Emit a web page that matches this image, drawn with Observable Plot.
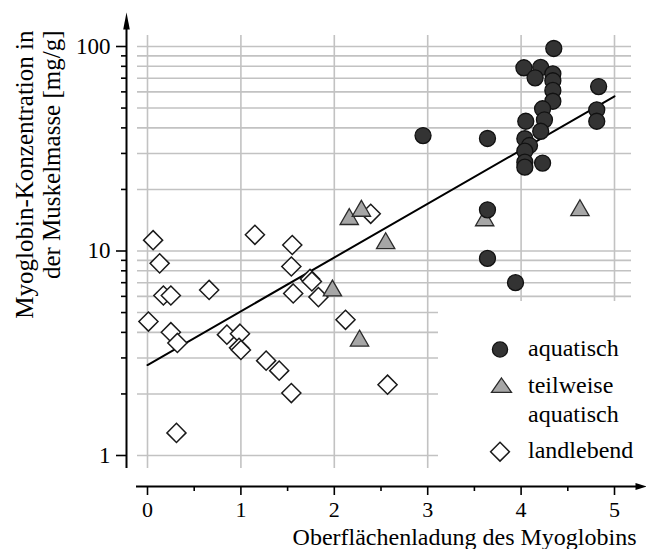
<!DOCTYPE html>
<html>
<head>
<meta charset="utf-8">
<script src="https://cdn.jsdelivr.net/npm/d3@7"></script>
<script src="https://cdn.jsdelivr.net/npm/@observablehq/plot@0.6"></script>
<style>
  html, body { margin: 0; padding: 0; background: #fff; overflow: hidden; }
  #wrap { position: relative; width: 646px; height: 549px; overflow: hidden; font-family: "Liberation Serif", serif; }
  #wrap svg { display: block; }
  #legend { position: absolute; left: 438px; top: 301px; width: 208px; height: 170px; background: #fff; }
  #legend svg { position: absolute; left: 0; top: 0; }
</style>
</head>
<body>
<div id="wrap"></div>
<script>
// ---- data ----
const aquaticX = [2.95, 3.64, 3.64, 3.64, 3.94, 4.03, 4.21, 4.15, 4.35, 4.34, 4.34, 4.34, 4.34, 4.83, 4.81, 4.81, 4.23, 4.25, 4.21, 4.05, 4.04, 4.09, 4.04, 4.04, 4.04, 4.23];
const aquaticY = [36.7, 35.5, 15.9, 9.2, 7.0, 78.7, 79.0, 70.3, 97.8, 73.5, 68.0, 61.0, 54.0, 63.7, 49.0, 43.1, 49.6, 43.8, 38.5, 43.1, 35.4, 32.8, 30.8, 27.2, 25.7, 26.9];

const semiX = [2.16, 2.29, 2.55, 1.98, 2.27, 3.61, 4.63];
const semiY = [14.3, 15.7, 10.9, 6.4, 3.64, 14.1, 15.8];

const landX = [0.01, 0.06, 0.13, 0.17, 0.25, 0.25, 0.32, 0.31, 0.66, 0.85, 0.99, 0.98, 1.00, 1.15, 1.27, 1.41, 1.54, 1.55, 1.54, 1.56, 1.74, 1.76, 1.83, 2.12, 2.39, 2.57];
const landY = [4.52, 11.3, 8.7, 6.06, 6.06, 4.01, 3.55, 1.29, 6.45, 3.9, 3.94, 3.36, 3.28, 12.0, 2.91, 2.6, 2.02, 10.7, 8.4, 6.2, 7.3, 7.1, 5.95, 4.61, 15.2, 2.22];

const trendX = [0, 5];
const trendY = [2.77, 57.1];

const xMajorTicks = [0, 1, 2, 3, 4, 5];
const xMinorTicks = [0.5, 1.5, 2.5, 3.5, 4.5];
const yMajorTicks = [1, 10, 100];
const yMinorTicks = [2, 3, 4, 5, 6, 7, 8, 9, 20, 30, 40, 50, 60, 70, 80, 90];
const yGrid = [1, 2, 3, 4, 5, 6, 7, 8, 9, 10, 20, 30, 40, 50, 60, 70, 80, 90, 100];

const xTitle = "Oberflächenladung des Myoglobins";
const yTitle = "Myoglobin-Konzentration in\nder Muskelmasse [mg/g]";
const legendLabels = ["aquatisch", "teilweise\naquatisch", "landlebend"];

// ---- build tables ----
const aquatic = aquaticX.map((x, i) => ({x, y: aquaticY[i]}));
const semi = semiX.map((x, i) => ({x, y: semiY[i]}));
const land = landX.map((x, i) => ({x, y: landY[i]}));
const trend = trendX.map((x, i) => ({x, y: trendY[i]}));

const arrowUp = {draw(ctx) { ctx.moveTo(0, -17); ctx.lineTo(3.3, 0); ctx.lineTo(-3.3, 0); ctx.closePath(); }};
const arrowRight = {draw(ctx) { ctx.moveTo(11, 0); ctx.lineTo(0, 3.6); ctx.lineTo(0, -3.6); ctx.closePath(); }};

const gridColor = "#c2c2c2";

const chart = Plot.plot({
  width: 646,
  height: 560,
  marginLeft: 147,
  marginRight: 32,
  marginTop: 46,
  marginBottom: 105,
  style: {fontFamily: "Liberation Serif, serif", fontSize: "23px", color: "#000", background: "#fff"},
  x: {domain: [0, 5], axis: null},
  y: {type: "log", domain: [1, 100], axis: null},
  marks: [
    // grid
    Plot.ruleX(xMajorTicks, {stroke: gridColor, strokeWidth: 1.6, insetTop: -11, insetBottom: -13}),
    Plot.ruleY(yGrid, {stroke: gridColor, strokeWidth: 1.6, insetLeft: -10, insetRight: -17}),
    // y axis line + arrow
    Plot.ruleX([0], {dx: -21, insetTop: -26, insetBottom: -13, stroke: "#000", strokeWidth: 2}),
    Plot.dot([0], {frameAnchor: "top-left", dx: -21, dy: -17, symbol: arrowUp, fill: "#000", stroke: "none"}),
    // x axis line + arrow
    Plot.ruleY([1], {dy: 31, insetLeft: -11, insetRight: -22, stroke: "#000", strokeWidth: 2}),
    Plot.dot([0], {frameAnchor: "bottom-right", dx: 21, dy: 31, symbol: arrowRight, fill: "#000", stroke: "none"}),
    // y ticks
    Plot.axisY({anchor: "left", ticks: yMajorTicks, tickSize: 10, tickPadding: 6, dx: -21, tickFormat: d => String(d), strokeWidth: 1.6, label: null, fontSize: 23}),
    Plot.axisY({anchor: "left", ticks: yMinorTicks, tickSize: 5, dx: -21, tickFormat: () => "", strokeWidth: 1.6, label: null}),
    // x ticks
    Plot.axisX({anchor: "bottom", ticks: xMajorTicks, tickSize: 9, tickPadding: 6, dy: 31, tickFormat: d => String(d), strokeWidth: 1.6, label: null, fontSize: 22}),
    Plot.axisX({anchor: "bottom", ticks: xMinorTicks, tickSize: 5, dy: 31, tickFormat: () => "", strokeWidth: 1.6, label: null}),
    // titles
    Plot.text([yTitle], {frameAnchor: "top-left", dx: -88, dy: -16, rotate: -90, textAnchor: "end", lineAnchor: "bottom", lineHeight: 1.08, fontSize: 25, fill: "#000"}),
    Plot.text([xTitle], {frameAnchor: "bottom-right", dx: 22, dy: 89, textAnchor: "end", lineAnchor: "bottom", fontSize: 24, fill: "#000"}),
    // regression line
    Plot.line(trend, {x: "x", y: "y", stroke: "#000", strokeWidth: 2}),
    // data
    Plot.dot(land, {x: "x", y: "y", symbol: "diamond2", r: 8.6, fill: "#fff", stroke: "#1a1a1a", strokeWidth: 1.5}),
    Plot.dot(semi, {x: "x", y: "y", symbol: "triangle", r: 6.8, fill: "#a6a6a6", stroke: "#2a2a2a", strokeWidth: 1.3}),
    Plot.dot(aquatic, {x: "x", y: "y", symbol: "circle", r: 8, fill: "#333333", stroke: "#111", strokeWidth: 1.3})
  ]
});

const wrap = document.getElementById("wrap");
wrap.appendChild(chart);

// legend (white box overlays the lower-right grid as in the reference)
const legend = document.createElement("div");
legend.id = "legend";
const ns = "http://www.w3.org/2000/svg";
const lsvg = document.createElementNS(ns, "svg");
lsvg.setAttribute("width", 208);
lsvg.setAttribute("height", 170);
lsvg.innerHTML = `
  <circle cx="62" cy="48.5" r="7.6" fill="#333333" stroke="#111" stroke-width="1.3"></circle>
  <polygon points="63.5,77 73.5,91.3 53.5,91.3" fill="#a6a6a6" stroke="#2a2a2a" stroke-width="1.3"></polygon>
  <polygon points="62,141.3 71.4,150.7 62,160.1 52.6,150.7" fill="#fff" stroke="#1a1a1a" stroke-width="1.5"></polygon>
`;
const rows = [
  {lines: legendLabels[0].split("\n"), y: 55},
  {lines: legendLabels[1].split("\n"), y: 92},
  {lines: legendLabels[2].split("\n"), y: 157}
];
for (const r of rows) {
  const t = document.createElementNS(ns, "text");
  t.setAttribute("x", 90);
  t.setAttribute("y", r.y);
  t.setAttribute("font-family", "Liberation Serif, serif");
  t.setAttribute("font-size", "24");
  t.setAttribute("fill", "#000");
  r.lines.forEach((line, i) => {
    const ts = document.createElementNS(ns, "tspan");
    ts.setAttribute("x", 90);
    if (i > 0) ts.setAttribute("dy", "28.7");
    ts.textContent = line;
    t.appendChild(ts);
  });
  lsvg.appendChild(t);
}
legend.appendChild(lsvg);
wrap.appendChild(legend);
</script>
</body>
</html>
